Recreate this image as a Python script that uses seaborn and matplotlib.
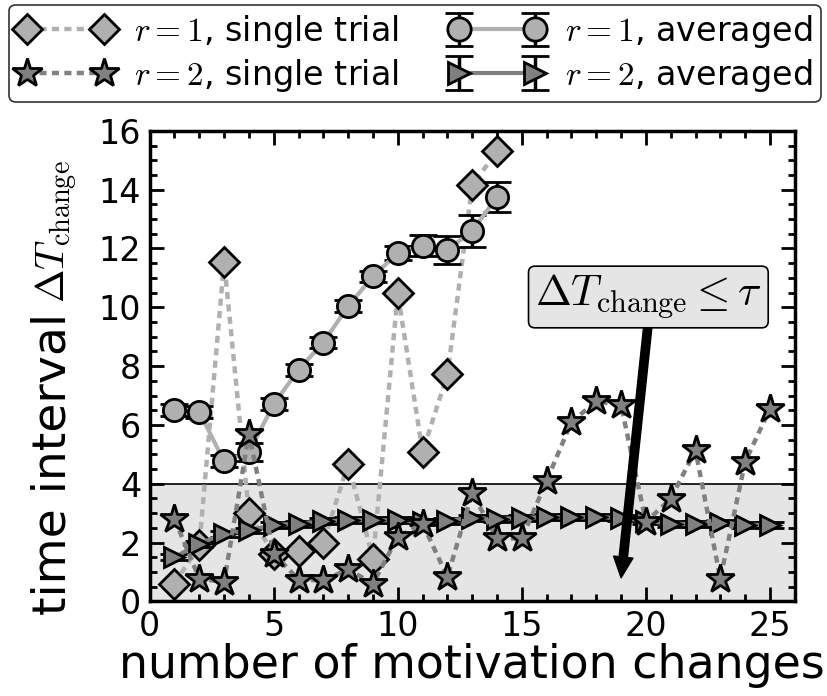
import numpy as np
import pandas as pd
import matplotlib
matplotlib.use("Agg")
import matplotlib.pyplot as plt
from matplotlib.ticker import MultipleLocator
import seaborn as sns

# ---- data ----
x_r1_single = list(range(1, 15))
y_r1_single = [0.6, 1.9, 11.55, 3.0, 1.6, 1.7, 2.0, 4.68, 1.45, 10.47, 5.08, 7.72, 14.15, 15.3]

x_r2_single = list(range(1, 26))
y_r2_single = [2.8, 0.77, 0.66, 5.7, 1.62, 0.74, 0.71, 1.09, 0.6, 2.19, 2.64, 0.83, 3.68,
               2.14, 2.14, 4.1, 6.1, 6.8, 6.67, 2.7, 3.49, 5.14, 0.77, 4.74, 6.55]

x_r1_avg = list(range(1, 15))
y_r1_avg = [6.5, 6.44, 4.76, 5.08, 6.7, 7.88, 8.8, 10.04, 11.05, 11.85, 12.1, 11.95, 12.6, 13.75]
e_r1_avg = [0.2, 0.2, 0.2, 0.3, 0.2, 0.2, 0.2, 0.2, 0.2, 0.25, 0.35, 0.48, 0.55, 0.5]

x_r2_avg = list(range(1, 26))
y_r2_avg = [1.5, 1.96, 2.3, 2.41, 2.6, 2.64, 2.72, 2.76, 2.76, 2.76, 2.7, 2.74, 2.84,
            2.8, 2.84, 2.86, 2.86, 2.86, 2.84, 2.74, 2.64, 2.62, 2.68, 2.6, 2.6]
e_r2_avg = [0.1] * 25

threshold = 4.0

light = "#b0b0b0"
dark = "#808080"

sns.set_style("ticks")
plt.rcParams["mathtext.fontset"] = "cm"
plt.rcParams["font.family"] = ["DejaVu Sans"]
for k in ["text.color", "axes.labelcolor", "xtick.color", "ytick.color", "axes.edgecolor"]:
    plt.rcParams[k] = "black"

fig = plt.figure(figsize=(8.27, 6.96), dpi=100)
ax = fig.add_axes([0.181, 0.136, 0.78, 0.676])

ax.axhspan(0, threshold, color="#e5e5e5", zorder=0)
ax.axhline(threshold, color="black", lw=1.2, zorder=1)

df1 = pd.DataFrame({"x": x_r1_single, "y": y_r1_single})
df2 = pd.DataFrame({"x": x_r2_single, "y": y_r2_single})

dash = (0, (1.6, 1.2))
sns.lineplot(data=df1, x="x", y="y", ax=ax, color=light, lw=3.2, linestyle=dash,
             marker="D", markersize=15, markerfacecolor=light, markeredgecolor="black",
             markeredgewidth=2, label=r"$r=1$, single trial", zorder=3)
sns.lineplot(data=df2, x="x", y="y", ax=ax, color=dark, lw=3.2, linestyle=dash,
             marker="*", markersize=21, markerfacecolor=dark, markeredgecolor="black",
             markeredgewidth=2, label=r"$r=2$, single trial", zorder=5)
ax.errorbar(x_r1_avg, y_r1_avg, yerr=e_r1_avg, color=light, lw=3, marker="o",
            markersize=16, markerfacecolor=light, markeredgecolor="black", markeredgewidth=2,
            ecolor="black", elinewidth=2.5, capsize=10, capthick=3,
            label=r"$r=1$, averaged", zorder=4)
ax.errorbar(x_r2_avg, y_r2_avg, yerr=e_r2_avg, color=dark, lw=3, marker=">",
            markersize=15, markerfacecolor=dark, markeredgecolor="black", markeredgewidth=2,
            ecolor="black", elinewidth=2.5, capsize=10, capthick=3,
            label=r"$r=2$, averaged", zorder=4)

ax.set_xlim(0, 26)
ax.set_ylim(0, 16)
ax.xaxis.set_major_locator(MultipleLocator(5))
ax.xaxis.set_minor_locator(MultipleLocator(1))
ax.yaxis.set_major_locator(MultipleLocator(2))
ax.yaxis.set_minor_locator(MultipleLocator(0.5))
ax.tick_params(which="both", direction="in", top=True, right=True, labelsize=24, width=2)
ax.tick_params(which="major", length=10, pad=6)
ax.tick_params(which="minor", length=5)
for s in ax.spines.values():
    s.set_linewidth(2.5)
    s.set_visible(True)

ax.set_xlabel("number of motivation changes", fontsize=33, labelpad=0)
ax.set_ylabel("")
# y label: text part and math part (math rendered slightly smaller, as in the reference)
fig.text(65 / 827, 1 - 615 / 696, "time interval", rotation=90, rotation_mode="anchor",
         ha="left", va="baseline", fontsize=34)
fig.text(65 / 827, 1 - 303 / 696, r"$\Delta T_{\rm change}$", rotation=90,
         rotation_mode="anchor", ha="left", va="baseline", fontsize=29)

ax.annotate(r"$\Delta T_{\rm change} \leq \tau$", xy=(19.0, 0.8), xytext=(20.1, 10.35),
            fontsize=31, ha="center", va="center", zorder=6,
            bbox=dict(boxstyle="round,pad=0.15", fc="#e5e5e5", ec="black", lw=1.2),
            arrowprops=dict(facecolor="black", edgecolor="black", width=6,
                            headwidth=14, headlength=15, shrink=0.0))

h, l = ax.get_legend_handles_labels()
if ax.get_legend():
    ax.get_legend().remove()
leg = fig.legend(h, l, ncol=2,
                 loc="upper center", bbox_to_anchor=(0.502, 0.998), fontsize=24,
                 frameon=True, fancybox=True, edgecolor="black", numpoints=2,
                 markerscale=1.05,
                 handlelength=2.9, columnspacing=1.5, handletextpad=0.6,
                 borderpad=0.25, labelspacing=0.2, borderaxespad=0.1)
leg.get_frame().set_linewidth(1.2)

fig.savefig("out.png", dpi=100)
